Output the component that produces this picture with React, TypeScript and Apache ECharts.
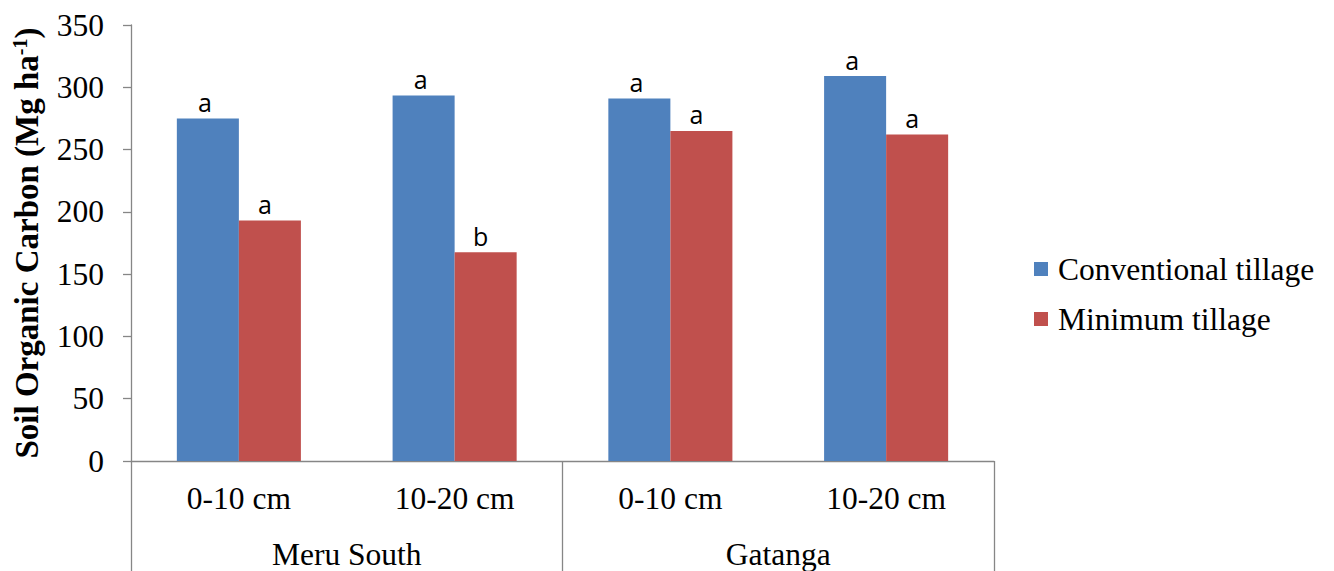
import React, { useEffect, useRef } from "react";
import * as echarts from "echarts";

const categories = ["0-10 cm", "10-20 cm", "0-10 cm", "10-20 cm"];
const sites = ["Meru South", "Gatanga"];
const seriesNames = ["Conventional tillage", "Minimum tillage"];
const conventional = [275, 293.5, 291, 309];
const minimum = [193, 167.5, 265, 262];
const convLetters = ["a", "a", "a", "a"];
const minLetters = ["a", "b", "a", "a"];
const yTicks = [0, 50, 100, 150, 200, 250, 300, 350];

const SERIF = "'Liberation Serif', 'Times New Roman', serif";
const SANS = "'Open Sans', 'Liberation Sans', sans-serif";
const AXIS_GRAY = "#868686";

export default function App() {
  const ref = useRef<HTMLDivElement>(null);
  useEffect(() => {
    document.body.style.margin = "0";
    const chart = echarts.init(ref.current!, null, { renderer: "svg" });
    chart.setOption({
      animation: false,
      backgroundColor: "#ffffff",
      grid: { left: 131, right: 340, top: 25, bottom: 110, outerBoundsMode: "none", containLabel: false },
      legend: {
        orient: "vertical",
        left: 1034,
        top: 253,
        padding: 0,
        itemWidth: 14,
        itemHeight: 14,
        itemGap: 18,
        icon: "rect",
        data: seriesNames,
        textStyle: { fontFamily: SERIF, fontSize: 31.5, color: "#000", padding: [0, 0, 0, 5], lineHeight: 30 },
      },
      xAxis: [
        {
          type: "category",
          data: categories,
          position: "bottom",
          axisLine: { show: true, lineStyle: { color: AXIS_GRAY, width: 1.3 } },
          axisTick: { show: false },
          axisLabel: { fontFamily: SERIF, fontSize: 31.5, color: "#000", margin: 21, interval: 0 },
        },
        {
          type: "category",
          data: sites,
          position: "bottom",
          axisLine: { show: false },
          axisTick: { show: true, length: 112, lineStyle: { color: AXIS_GRAY, width: 1.3 } },
          axisLabel: { fontFamily: SERIF, fontSize: 31.5, color: "#000", margin: 77, interval: 0 },
        },
      ],
      yAxis: {
        type: "value",
        min: 0,
        max: yTicks[yTicks.length - 1],
        interval: 50,
        name: "{b|Soil Organic Carbon (Mg ha}{s|-1}{b|)}",
        nameLocation: "middle",
        nameGap: 87,
        nameTextStyle: {
          rich: {
            b: { fontFamily: SERIF, fontSize: 33, fontWeight: "bold", color: "#000" },
            s: { fontFamily: SERIF, fontSize: 20, fontWeight: "bold", color: "#000", verticalAlign: "top", padding: [0, 0, 14, 0] },
          },
        },
        axisLine: { show: true, lineStyle: { color: AXIS_GRAY, width: 1.3 } },
        axisTick: { show: true, length: 8, lineStyle: { color: AXIS_GRAY, width: 1.3 } },
        splitLine: { show: false },
        axisLabel: { fontFamily: SERIF, fontSize: 31.5, color: "#000", margin: 27 },
      },
      series: [
        {
          name: seriesNames[0],
          type: "bar",
          data: conventional,
          barGap: "0%",
          barCategoryGap: "42.5%",
          itemStyle: { color: "#4F81BD" },
          label: {
            show: true,
            position: "top",
            distance: 4,
            offset: [-3, 0],
            fontFamily: SANS,
            fontSize: 25,
            color: "#000",
            formatter: (p: any) => convLetters[p.dataIndex],
          },
        },
        {
          name: seriesNames[1],
          type: "bar",
          data: minimum,
          barGap: "0%",
          barCategoryGap: "42.5%",
          itemStyle: { color: "#C0504D" },
          label: {
            show: true,
            position: "top",
            distance: 4,
            offset: [-5, 0],
            fontFamily: SANS,
            fontSize: 25,
            color: "#000",
            formatter: (p: any) => minLetters[p.dataIndex],
          },
        },
      ],
    });
    return () => chart.dispose();
  }, []);
  return <div ref={ref} style={{ width: 1334, height: 571 }} />;
}
